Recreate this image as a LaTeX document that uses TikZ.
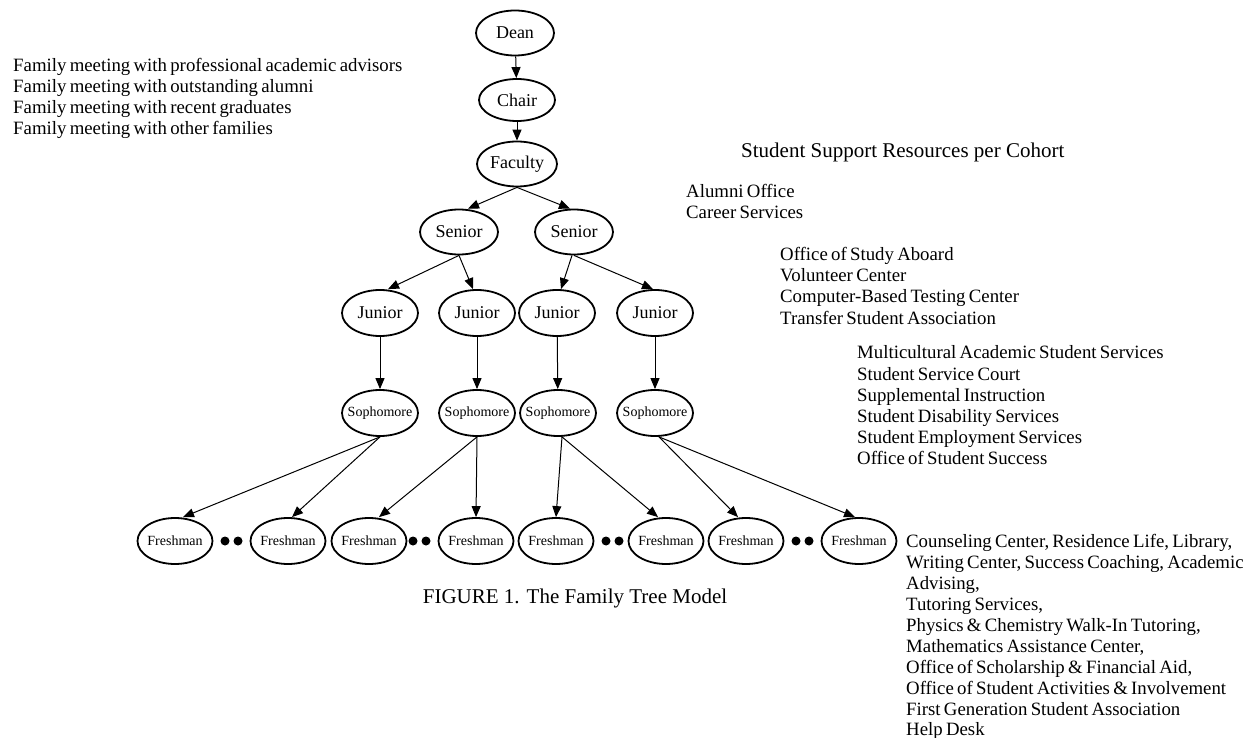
\documentclass[tikz,border=0pt]{standalone}
\usepackage{fontspec}
\setmainfont{Liberation Serif}
\newfontfamily\tightfont{Liberation Serif}[WordSpace=0.7]
\usetikzlibrary{shapes.geometric,arrows.meta}
\newcommand\lbl[1]{\makebox[0pt]{#1}}
\begin{document}
\begin{tikzpicture}[x=1pt,y=-1pt,
  person/.style={draw,ellipse,line width=1.8pt,inner sep=0pt,minimum width=78pt,minimum height=45pt,font=\fontsize{18}{20}\selectfont},
  small/.style={person,minimum width=76pt,minimum height=46pt,font=\fontsize{14}{16}\selectfont},
  edge/.style={line width=1pt,-{Triangle[length=11pt,width=9pt]}},
  dot/.style={circle,fill,inner sep=0pt,minimum size=9pt},
  txt/.style={anchor=base west,inner sep=0pt,font=\tightfont\fontsize{18.8}{21}\selectfont},
  big/.style={anchor=base,inner sep=0pt,font=\fontsize{21}{24}\selectfont}]
\useasboundingbox (0,0) rectangle (1254,738);
\fill[white] (0,0) rectangle (1254,738);

\node[person] (dean) at (515,33) {\lbl{Dean}};
\node[person,minimum width=76pt,minimum height=42pt] (chair) at (517,100) {\lbl{Chair}};
\node[person,minimum width=80pt] (fac) at (517,164) {\lbl{Faculty}};
\node[person] (s1) at (459,232) {\lbl{Senior}};
\node[person] (s2) at (574,232) {\lbl{Senior}};
\node[person,minimum width=76pt,minimum height=46pt] (j1) at (380,313) {\lbl{Junior}};
\node[person,minimum width=76pt,minimum height=46pt] (j2) at (477,313) {\lbl{Junior}};
\node[person,minimum width=76pt,minimum height=46pt] (j3) at (557,313) {\lbl{Junior}};
\node[person,minimum width=76pt,minimum height=46pt] (j4) at (655,313) {\lbl{Junior}};
\node[small] (p1) at (380,413) {\lbl{Sophomore}};
\node[small] (p2) at (477,413) {\lbl{Sophomore}};
\node[small] (p3) at (558,413) {\lbl{Sophomore}};
\node[small] (p4) at (655,413) {\lbl{Sophomore}};
\node[small,minimum width=75pt] (f1) at (175,541) {\lbl{Freshman}};
\node[small,minimum width=75pt] (f2) at (288,541) {\lbl{Freshman}};
\node[small,minimum width=75pt] (f3) at (369,541) {\lbl{Freshman}};
\node[small,minimum width=75pt] (f4) at (476,541) {\lbl{Freshman}};
\node[small,minimum width=75pt] (f5) at (556,541) {\lbl{Freshman}};
\node[small,minimum width=75pt] (f6) at (666,541) {\lbl{Freshman}};
\node[small,minimum width=75pt] (f7) at (746,541) {\lbl{Freshman}};
\node[small,minimum width=75pt] (f8) at (859,541) {\lbl{Freshman}};

\node[dot] (d1a) at (225,541) {};
\node[dot] (d1b) at (238,541) {};
\node[dot] (d2a) at (413,541) {};
\node[dot] (d2b) at (426,541) {};
\node[dot] (d3a) at (606,541) {};
\node[dot] (d3b) at (619,541) {};
\node[dot] (d4a) at (796,541) {};
\node[dot] (d4b) at (809,541) {};

\draw[edge] (dean) -- (chair);
\draw[edge] (chair) -- (fac);
\draw[edge] (fac.south) -- ([xshift=9pt]s1.north);
\draw[edge] (fac.south) -- ([xshift=-4pt]s2.north);
\draw[edge] (s1.south) -- ([xshift=8pt]j1.north);
\draw[edge] (s1.south) -- ([xshift=-4pt]j2.north);
\draw[edge] ([xshift=-2pt]s2.south) -- ([xshift=4pt]j3.north);
\draw[edge] (s2.south) -- ([xshift=-2pt]j4.north);
\draw[edge] (j1) -- (p1);
\draw[edge] (j2) -- (p2);
\draw[edge] (j3) -- (p3);
\draw[edge] (j4) -- (p4);
\draw[edge] (p1.south) -- ([xshift=8pt]f1.north);
\draw[edge] (p1.south) -- ([xshift=4pt]f2.north);
\draw[edge] (p2.south) -- ([xshift=10pt]f3.north);
\draw[edge] (p2.south) -- (f4.north);
\draw[edge] ([xshift=4pt]p3.south) -- (f5.north);
\draw[edge] ([xshift=4pt]p3.south) -- ([xshift=-8pt]f6.north);
\draw[edge] ([xshift=4pt]p4.south) -- ([xshift=-8pt]f7.north);
\draw[edge] ([xshift=4pt]p4.south) -- ([xshift=-4pt]f8.north);

\node[txt] (l1) at (13,72) {Family meeting with professional academic advisors};
\node[txt] (l2) at (13,93) {Family meeting with outstanding alumni};
\node[txt] (l3) at (13,114) {Family meeting with recent graduates};
\node[txt] (l4) at (13,135) {Family meeting with other families};

\node[big,anchor=base west] (title) at (741,158) {Student Support Resources per Cohort};

\node[txt] (a1) at (686,198) {Alumni Office};
\node[txt] (a2) at (686,219) {Career Services};

\node[txt] (b1) at (780,261) {Office of Study Aboard};
\node[txt] (b2) at (780,282) {Volunteer Center};
\node[txt] (b3) at (780,303) {Computer-Based Testing Center};
\node[txt] (b4) at (780,324) {Transfer Student Association};

\node[txt] (c1) at (857,359) {Multicultural Academic Student Services};
\node[txt] (c2) at (857,380) {Student Service Court};
\node[txt] (c3) at (857,401) {Supplemental Instruction};
\node[txt] (c4) at (857,422) {Student Disability Services};
\node[txt] (c5) at (857,443) {Student Employment Services};
\node[txt] (c6) at (857,464) {Office of Student Success};

\node[txt] (e1) at (906,547) {Counseling Center, Residence Life, Library,};
\node[txt] (e2) at (906,568) {Writing Center, Success Coaching, Academic};
\node[txt] (e3) at (906,589) {Advising,};
\node[txt] (e4) at (906,610) {Tutoring Services,};
\node[txt] (e5) at (906,631) {Physics \& Chemistry Walk-In Tutoring,};
\node[txt] (e6) at (906,652) {Mathematics Assistance Center,};
\node[txt] (e7) at (906,673) {Office of Scholarship \& Financial Aid,};
\node[txt] (e8) at (906,694) {Office of Student Activities \& Involvement};
\node[txt] (e9) at (906,715) {First Generation Student Association};
\node[txt] (e10) at (906,735) {Help Desk};

\node[big] (cap) at (575,603) {FIGURE 1. The Family Tree Model};
\end{tikzpicture}
\end{document}
